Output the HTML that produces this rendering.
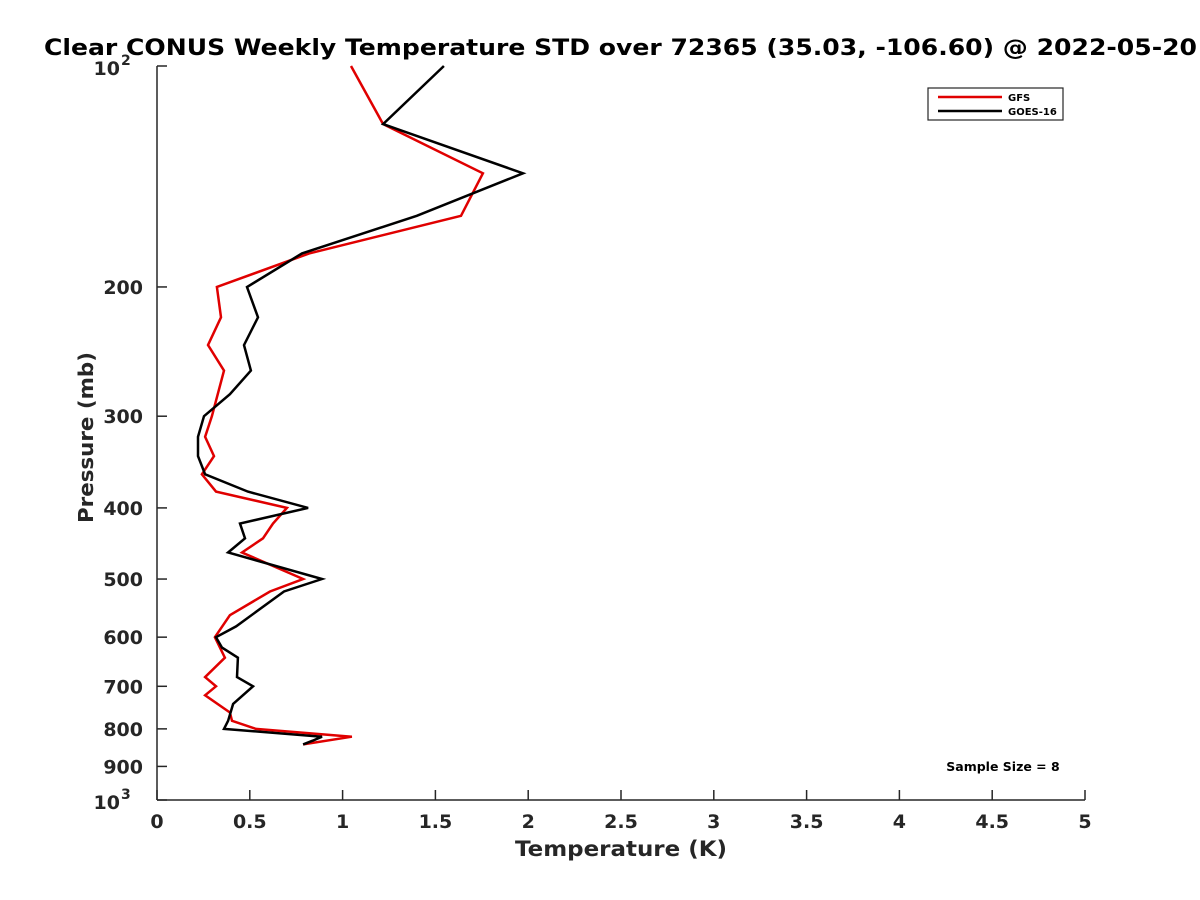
<!DOCTYPE html>
<html><head><meta charset="utf-8"><style>
html,body{margin:0;padding:0;background:#fff;}
svg{display:block;font-family:"DejaVu Sans","Liberation Sans",sans-serif;font-weight:bold;}
</style></head><body>
<svg id="chart" width="1200" height="900" viewBox="0 0 1200 900">
<text x="44" y="55" font-size="22" fill="#000" textLength="1153" lengthAdjust="spacingAndGlyphs">Clear CONUS Weekly Temperature STD over 72365 (35.03, -106.60) @ 2022-05-20</text>
<g id="axes"></g>
<g id="series"></g>
<text x="515" y="856" font-size="21" fill="#262626" textLength="212" lengthAdjust="spacingAndGlyphs">Temperature (K)</text>
<text transform="translate(93,523) rotate(-90)" font-size="20" fill="#262626" textLength="171" lengthAdjust="spacingAndGlyphs">Pressure (mb)</text>
<g>
<rect x="928" y="88" width="135" height="32" fill="#fff" stroke="#262626" stroke-width="1.2"/>
<line x1="938" y1="97" x2="1002" y2="97" stroke="#e00000" stroke-width="2.5"/>
<text x="1008" y="101" font-size="10" fill="#000">GFS</text>
<line x1="938" y1="111" x2="1002" y2="111" stroke="#000" stroke-width="2.5"/>
<text x="1008" y="115" font-size="10" fill="#000">GOES-16</text>
</g>
<text x="1003" y="771" font-size="12.5" fill="#000" text-anchor="middle">Sample Size = 8</text>
</svg>
<script>
const xTicks = [0,0.5,1,1.5,2,2.5,3,3.5,4,4.5,5];
const xTickLabels = ["0","0.5","1","1.5","2","2.5","3","3.5","4","4.5","5"];
const yTicks = [200,300,400,500,600,700,800,900];
const gfsPressure = [100,120,140,160,180,200,220,240,260,300,320,340,360,380,400,420,440,460,500,520,560,600,640,680,700,720,760,780,800,820,840];
const gfsTemp = [1.045,1.218,1.756,1.638,0.82,0.323,0.345,0.275,0.361,0.296,0.259,0.307,0.242,0.318,0.70,0.625,0.571,0.458,0.787,0.609,0.393,0.312,0.366,0.259,0.318,0.259,0.393,0.404,0.533,1.05,0.787];
const goesPressure = [100,120,140,160,180,200,220,240,260,280,300,320,340,360,380,400,420,440,460,500,520,580,600,620,640,680,700,740,780,800,820,830,840];
const goesTemp = [1.546,1.218,1.972,1.40,0.781,0.485,0.544,0.469,0.506,0.393,0.253,0.221,0.221,0.259,0.49,0.814,0.447,0.474,0.383,0.889,0.684,0.426,0.318,0.35,0.436,0.431,0.517,0.41,0.383,0.361,0.889,0.84,0.787];

const NS="http://www.w3.org/2000/svg";
const X0=157,X1=1085,Y0=66,Y1=800;
function xs(v){return X0+(v-0)/(5-0)*(X1-X0);}
function ys(p){return Y0+(Math.log10(p)-2)*(Y1-Y0);}
const axes=document.getElementById('axes');
function mk(tag,attrs,parent){const e=document.createElementNS(NS,tag);for(const k in attrs)e.setAttribute(k,attrs[k]);parent.appendChild(e);return e;}
let a=mk('line',{x1:X0,y1:Y0,x2:X0,y2:Y1,stroke:'#262626','stroke-width':1.5},axes);


let b=mk('line',{x1:X0,y1:Y1,x2:X1,y2:Y1,stroke:'#262626','stroke-width':1.5},axes);


xTicks.forEach((v,i)=>{
  const t=mk('line',{x1:xs(v),y1:Y1,x2:xs(v),y2:Y1-10,stroke:'#262626','stroke-width':1.5},axes);
  
  
  const l=mk('text',{x:xs(v),y:Y1+28,'font-size':19,fill:'#262626','text-anchor':'middle'},axes);
  l.textContent=xTickLabels[i];
  
  
});
[100,...yTicks,1000].forEach(p=>{
  const t=mk('line',{x1:X0,y1:ys(p),x2:X0+10,y2:ys(p),stroke:'#262626','stroke-width':1.5},axes);
  
  
});
yTicks.forEach(p=>{
  const l=mk('text',{x:X0-14,y:ys(p)+7,'font-size':19,fill:'#262626','text-anchor':'end'},axes);
  l.textContent=String(p);
  
  
});
[[100,'2'],[1000,'3']].forEach(([p,e])=>{
  const l=mk('text',{x:X0-37,y:ys(p)+9,'font-size':19,fill:'#262626','text-anchor':'end'},axes);
  l.textContent='10';
  
  
  const s=mk('text',{x:X0-36,y:ys(p)-1,'font-size':14,fill:'#262626'},axes);
  s.textContent=e;
  
  
});
const series=document.getElementById('series');
function drawLine(ps,ts,color,name){
  const pts=ps.map((p,i)=>xs(ts[i]).toFixed(1)+','+ys(p).toFixed(1)).join(' ');
  const pl=mk('polyline',{points:pts,fill:'none',stroke:color,'stroke-width':2.5,'stroke-linejoin':'miter'},series);
  
  
}
drawLine(gfsPressure,gfsTemp,'#e00000','gfs-line');
drawLine(goesPressure,goesTemp,'#000000','goes16-line');
</script>
</body></html>
